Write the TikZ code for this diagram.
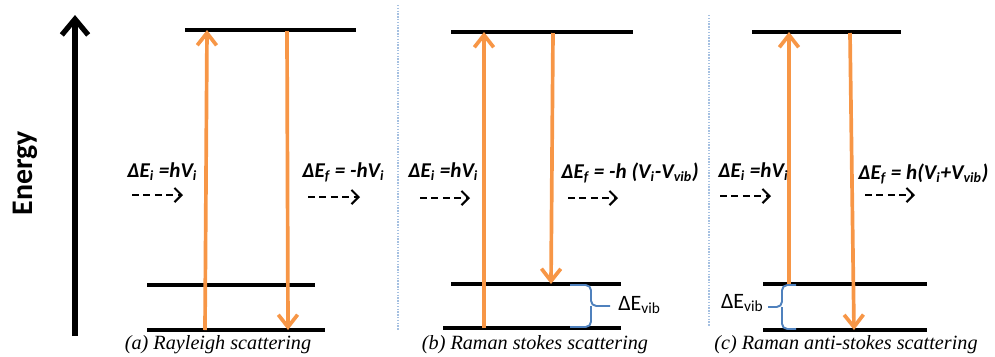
\documentclass[tikz,border=0pt]{standalone}
\usepackage{fontspec}
\setmainfont{Liberation Serif}
\newfontfamily\calfont{Carlito}
\usetikzlibrary{arrows.meta, positioning, calc}
\definecolor{ramanorange}{RGB}{247,150,70}
\definecolor{vibblue}{RGB}{79,129,189}
\definecolor{sepblue}{RGB}{165,192,225}

\begin{document}
\begin{tikzpicture}[
  x=0.02cm, y=-0.02cm,
  level/.style={line width=2.1pt, black},
  photon/.style={-{Straight Barb[length=7pt, width=11pt]}, line width=2.1pt, ramanorange},
  incident/.style={-{Straight Barb[length=4pt, width=8pt]}, line width=1.2pt, dash pattern=on 4pt off 2.5pt},
  eq/.style={anchor=west, inner sep=0pt, font=\calfont\bfseries\itshape\fontsize{12}{14}\selectfont},
  caption/.style={inner sep=0pt, font=\itshape\fontsize{11.5}{13}\selectfont},
  vib/.style={line width=1.1pt, vibblue, rounded corners=3pt},
  viblabel/.style={inner sep=0pt, font=\calfont\fontsize{12.5}{14}\selectfont},
  sep/.style={sepblue, line width=0.8pt, dash pattern=on 0.8pt off 0.8pt}
]
  \useasboundingbox (0,0) rectangle (995,356);
  % Energy axis
  \coordinate (e-low) at (75,336);
  \coordinate (e-high) at (75,15);
  \draw[-{Straight Barb[length=9pt, width=15pt]}, line width=3pt] (e-low) -- (e-high);
  \node[rotate=90, font=\calfont\bfseries\fontsize{17}{20}\selectfont] (energy) at (25,173) {Energy};
  % Panel separators
  \draw[sep] (398,5) -- (398,330);
  \draw[sep] (709,15) -- (709,326);

  % (a) Rayleigh
  \draw[level] (185,30) -- (356,30);
  \draw[level] (147,285) -- (315,285);
  \draw[level] (147,330) -- (325,330);
  \coordinate (a-up-s) at (205,330);
  \coordinate (a-up-e) at (207,30);
  \coordinate (a-dn-s) at (287,31);
  \coordinate (a-dn-e) at (288,330);
  \draw[photon] (a-up-s) -- (a-up-e);
  \draw[photon] (a-dn-s) -- (a-dn-e);
  \node[eq] (a-in) at (127,172) {ΔE\textsubscript{i} =hV\textsubscript{i}};
  \node[eq] (a-out) at (302,172) {ΔE\textsubscript{f} = -hV\textsubscript{i}};
  \draw[incident] (132,195) -- (183,195);
  \draw[incident] (308,197) -- (360,197);
  \node[caption] (a-cap) at (218,345) {(a) Rayleigh scattering};

  % (b) Raman stokes
  \draw[level] (451,32) -- (633,32);
  \draw[level] (451,284) -- (621,284);
  \draw[level] (443,328) -- (621,328);
  \coordinate (b-up-s) at (484,328);
  \coordinate (b-up-e) at (484,32);
  \coordinate (b-dn-s) at (553,33);
  \coordinate (b-dn-e) at (551,284);
  \draw[photon] (b-up-s) -- (b-up-e);
  \draw[photon] (b-dn-s) -- (b-dn-e);
  \node[eq] (b-in) at (408,172) {ΔE\textsubscript{i} =hV\textsubscript{i}};
  \node[eq] (b-out) at (561,173) {ΔE\textsubscript{f} = -h (V\textsubscript{i}-V\textsubscript{vib})};
  \draw[incident] (420,198) -- (470,198);
  \draw[incident] (568,198) -- (618,198);
  \coordinate (b-tip) at (610,306);
  \draw[vib] (570,285) -| (591,306) -- (b-tip);
  \draw[vib] (570,327) -| (591,306);
  \node[viblabel, anchor=west] (b-vib) at (618,305) {ΔE\textsubscript{vib}};
  \node[caption] (b-cap) at (535,345) {(b) Raman stokes scattering};

  % (c) Raman anti-stokes
  \draw[level] (752,32) -- (901,32);
  \draw[level] (763,284) -- (927,284);
  \draw[level] (763,330) -- (927,330);
  \coordinate (c-up-s) at (789,284);
  \coordinate (c-up-e) at (789,32);
  \coordinate (c-dn-s) at (850,33);
  \coordinate (c-dn-e) at (854,330);
  \draw[photon] (c-up-s) -- (c-up-e);
  \draw[photon] (c-dn-s) -- (c-dn-e);
  \node[eq] (c-in) at (718,172) {ΔE\textsubscript{i} =hV\textsubscript{i}};
  \node[eq] (c-out) at (858,174) {ΔE\textsubscript{f} = h(V\textsubscript{i}+V\textsubscript{vib})};
  \draw[incident] (720,196) -- (771,196);
  \draw[incident] (865,195) -- (915,195);
  \coordinate (c-tip) at (768,307);
  \draw[vib] (796,285) -| (782,307) -- (c-tip);
  \draw[vib] (796,329) -| (782,307);
  \node[viblabel, anchor=east] (c-vib) at (764,303) {ΔE\textsubscript{vib}};
  \node[caption] (c-cap) at (846,345) {(c) Raman anti-stokes scattering};
\end{tikzpicture}
\end{document}
